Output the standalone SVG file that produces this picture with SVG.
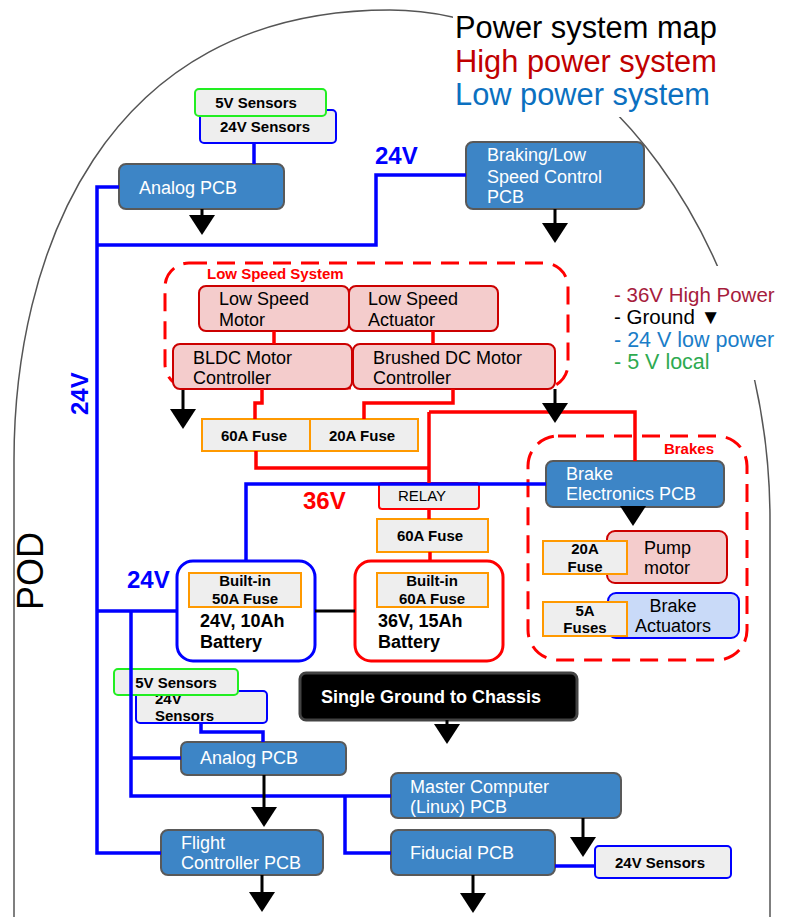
<svg xmlns="http://www.w3.org/2000/svg" width="788" height="917" viewBox="0 0 788 917">
<style>
text{font-family:"Liberation Sans",Arial,sans-serif}
.pcb{fill:#3d85c6;stroke:#595959;stroke-width:2}
.pcbt{fill:#fff;font-size:18px}
.pink{fill:#f4cccc;stroke:#cc0000;stroke-width:2}
.blk{fill:#000;font-size:18px}
.fuse{fill:#eeeeee;stroke:#ff9900;stroke-width:2}
.sen{fill:#eeeeee;stroke:#0000ff;stroke-width:2}
.sen5{fill:#eeeeee;stroke:#22ee22;stroke-width:2}
.b15{font-size:15px;font-weight:bold;fill:#000}
.b18{font-size:18px;font-weight:bold;fill:#000}
.mid{text-anchor:middle}
.w24{fill:none;stroke:#0000ff;stroke-width:3.5}
.w36{fill:none;stroke:#ff0000;stroke-width:3.5}
.stem{fill:none;stroke:#000;stroke-width:3}
.grp{fill:none;stroke:#ff0000;stroke-width:3;stroke-dasharray:18 10}
.vlab{font-size:24px;font-weight:bold}
</style>
<defs>
<polygon id="tri" points="-13,0 13,0 0,20" fill="#000"/>
</defs>

<!-- pod hull -->
<path d="M14,917 V460 C14,260 100,10 390,10 C600,10 770,250 770,520 V917" fill="none" stroke="#555" stroke-width="1.5"/>

<!-- title and legend -->
<g id="title">
<rect x="453" y="10" width="268" height="107" fill="#fff"/>
<text x="455" y="38" font-size="30.8" fill="#000">Power system map</text>
<text x="455" y="72" font-size="30.8" fill="#c00000">High power system</text>
<text x="455" y="105" font-size="30.8" fill="#0b70c0">Low power system</text>
</g>
<g id="legend">
<rect x="608" y="266" width="180" height="114" fill="#fff"/>
<text x="614" y="302" font-size="20.5" fill="#a61c3c">- 36V High Power</text>
<text x="614" y="324" font-size="20.5" fill="#000">- Ground ▼</text>
<text x="614" y="347" font-size="21.5" fill="#1a7dc8">- 24 V low power</text>
<text x="614" y="369" font-size="21.5" fill="#2eaa50">- 5 V local</text>
</g>

<!-- voltage labels -->
<text x="375" y="164" class="vlab" fill="#0000ff">24V</text>
<text x="303" y="509" class="vlab" fill="#ff0000">36V</text>
<text x="127" y="588" class="vlab" fill="#0000ff">24V</text>
<text transform="translate(88,415) rotate(-90)" class="vlab" fill="#0000ff">24V</text>
<text transform="translate(43,610) rotate(-90)" font-size="36" fill="#000">POD</text>

<!-- groups -->
<g id="low-speed-system">
<rect x="165" y="263" width="403" height="125" rx="24" class="grp"/>
<text x="207" y="279" font-size="15" font-weight="bold" fill="#ff0000">Low Speed System</text>
</g>
<g id="brakes">
<rect x="528" y="436" width="219" height="224" rx="30" class="grp"/>
<text x="714" y="454" font-size="15" font-weight="bold" fill="#ff0000" text-anchor="end">Brakes</text>
</g>

<!-- nodes -->
<g id="sensors-top">
<rect x="200" y="110" width="136" height="33" rx="4" class="sen"/>
<text x="265" y="132" class="b15 mid">24V Sensors</text>
<rect x="195" y="89" width="131" height="27" rx="4" class="sen5"/>
<text x="256" y="108" class="b15 mid">5V Sensors</text>
</g>
<g id="analog-pcb-top">
<rect x="119" y="164" width="165" height="45" rx="7" class="pcb"/>
<text x="139" y="194" class="pcbt">Analog PCB</text>
</g>
<g id="braking-pcb">
<rect x="466" y="142" width="178" height="67" rx="7" class="pcb"/>
<text x="487" y="161" class="pcbt">Braking/Low</text>
<text x="487" y="183" class="pcbt">Speed Control</text>
<text x="487" y="203" class="pcbt">PCB</text>
</g>
<g id="low-speed-motor">
<rect x="199" y="286" width="150" height="45" rx="7" class="pink"/>
<text x="219" y="305" class="blk">Low Speed</text>
<text x="219" y="326" class="blk">Motor</text>
</g>
<g id="low-speed-actuator">
<rect x="349" y="286" width="149" height="45" rx="7" class="pink"/>
<text x="368" y="305" class="blk">Low Speed</text>
<text x="368" y="326" class="blk">Actuator</text>
</g>
<g id="bldc-controller">
<rect x="173" y="344" width="179" height="45" rx="7" class="pink"/>
<text x="193" y="364" class="blk">BLDC Motor</text>
<text x="193" y="384" class="blk">Controller</text>
</g>
<g id="brushed-controller">
<rect x="353" y="344" width="202" height="45" rx="7" class="pink"/>
<text x="373" y="364" class="blk">Brushed DC Motor</text>
<text x="373" y="384" class="blk">Controller</text>
</g>
<g id="fuse-60a-bldc">
<rect x="202" y="419" width="108" height="32" class="fuse"/>
<text x="254" y="441" class="b15 mid">60A Fuse</text>
</g>
<g id="fuse-20a-brushed">
<rect x="310" y="419" width="108" height="32" class="fuse"/>
<text x="362" y="441" class="b15 mid">20A Fuse</text>
</g>
<g id="relay">
<rect x="379" y="483" width="100" height="26" rx="3" fill="#eeeeee" stroke="#ff0000" stroke-width="2"/>
<text x="398" y="501" font-size="15" fill="#000">RELAY</text>
</g>
<g id="fuse-60a-main">
<rect x="377" y="519" width="111" height="33" class="fuse"/>
<text x="430" y="541" class="b15 mid">60A Fuse</text>
</g>
<g id="battery-24v">
<rect x="177" y="561" width="138" height="100" rx="16" fill="#fff" stroke="#0000ff" stroke-width="3"/>
<rect x="189" y="573" width="112" height="34" class="fuse"/>
<text x="245" y="586" class="b15 mid">Built-in</text>
<text x="245" y="604" class="b15 mid">50A Fuse</text>
<text x="200" y="627" class="b18">24V, 10Ah</text>
<text x="200" y="648" class="b18">Battery</text>
</g>
<g id="battery-36v">
<rect x="355" y="561" width="148" height="100" rx="16" fill="#fff" stroke="#ff0000" stroke-width="3"/>
<rect x="377" y="573" width="111" height="34" class="fuse"/>
<text x="432" y="586" class="b15 mid">Built-in</text>
<text x="432" y="604" class="b15 mid">60A Fuse</text>
<text x="378" y="627" class="b18">36V, 15Ah</text>
<text x="378" y="648" class="b18">Battery</text>
</g>
<g id="brake-electronics">
<rect x="546" y="461" width="178" height="46" rx="7" class="pcb"/>
<text x="566" y="480" class="pcbt">Brake</text>
<text x="566" y="500" class="pcbt">Electronics PCB</text>
</g>
<g id="pump-motor">
<rect x="607" y="531" width="120" height="52" rx="8" class="pink"/>
<text x="644" y="554" class="blk">Pump</text>
<text x="644" y="574" class="blk">motor</text>
<rect x="543" y="541" width="84" height="33" class="fuse"/>
<text x="585" y="554" class="b15 mid">20A</text>
<text x="585" y="572" class="b15 mid">Fuse</text>
</g>
<g id="brake-actuators">
<rect x="608" y="593" width="131" height="45" rx="8" fill="#c9daf8" stroke="#0000ff" stroke-width="2"/>
<text x="673" y="612" class="blk mid">Brake</text>
<text x="673" y="632" class="blk mid">Actuators</text>
<rect x="543" y="602" width="84" height="34" class="fuse"/>
<text x="585" y="616" class="b15 mid">5A</text>
<text x="585" y="633" class="b15 mid">Fuses</text>
</g>
<g id="single-ground">
<rect x="300" y="673" width="277" height="47" rx="6" fill="#000" stroke="#434343" stroke-width="3"/>
<text x="321" y="703" font-size="18" font-weight="bold" fill="#fff">Single Ground to Chassis</text>
</g>
<g id="sensors-bottom">
<rect x="136" y="691" width="131" height="32" rx="4" class="sen"/>
<text x="155" y="704" class="b15">24V</text>
<text x="155" y="721" class="b15">Sensors</text>
<rect x="114" y="669" width="124" height="26" rx="4" class="sen5"/>
<text x="176" y="688" class="b15 mid">5V Sensors</text>
</g>
<g id="analog-pcb-bottom">
<rect x="181" y="742" width="165" height="33" rx="6" class="pcb"/>
<text x="200" y="764" class="pcbt">Analog PCB</text>
</g>
<g id="master-computer">
<rect x="391" y="773" width="230" height="45" rx="7" class="pcb"/>
<text x="410" y="793" class="pcbt">Master Computer</text>
<text x="410" y="813" class="pcbt">(Linux) PCB</text>
</g>
<g id="fiducial-pcb">
<rect x="391" y="830" width="164" height="45" rx="7" class="pcb"/>
<text x="410" y="859" class="pcbt">Fiducial PCB</text>
</g>
<g id="flight-controller">
<rect x="161" y="830" width="162" height="45" rx="7" class="pcb"/>
<text x="181" y="849" class="pcbt">Flight</text>
<text x="181" y="869" class="pcbt">Controller PCB</text>
</g>
<g id="sensors-fiducial">
<rect x="595" y="846" width="136" height="32" rx="4" class="sen"/>
<text x="660" y="868" class="b15 mid">24V Sensors</text>
</g>

<!-- wiring -->
<g id="connectors">
<path class="w24" d="M254,143 V164"/>
<path class="w24" d="M119,187 H97 V853 H161"/>
<path class="w24" d="M97,245 H376 V175 H466"/>
<path class="w24" d="M246,561 V484 H546"/>
<path class="w24" d="M97,611 H177"/>
<path class="w24" d="M131,611 V796 H391"/>
<path class="w24" d="M131,758 H181"/>
<path class="w24" d="M345,796 V853 H391"/>
<path class="w24" d="M201,723 V732 H263 V742"/>
<path class="w24" d="M555,866 H595"/>
<path class="w36" d="M274,331 V344"/>
<path class="w36" d="M433,331 V344"/>
<path class="w36" d="M262,389 V403 H255 V419"/>
<path class="w36" d="M453,389 V403 H364 V419"/>
<path class="w36" d="M256,451 V468 H429"/>
<path class="w36" d="M429,412 V483"/>
<path class="w36" d="M429,412 H635 V461"/>
<path class="w36" d="M429,509 V519"/>
<path class="w36" d="M430,552 V561"/>
<path class="stem" d="M315,611 H355"/>
<!-- ground symbols -->
<path class="stem" d="M202,209 V216 M555,209 V224 M183,390 V410 M555,389 V404 M447,720 V726 M264,775 V808 M583,818 V838 M262,875 V893 M473,875 V894"/>
<use href="#tri" x="202" y="215"/>
<use href="#tri" x="555" y="223"/>
<use href="#tri" x="183" y="409"/>
<use href="#tri" x="555" y="403"/>
<use href="#tri" x="633" y="506"/>
<use href="#tri" x="447" y="724"/>
<use href="#tri" x="264" y="807"/>
<use href="#tri" x="583" y="837"/>
<use href="#tri" x="262" y="892"/>
<use href="#tri" x="473" y="893"/>
</g>
</svg>
